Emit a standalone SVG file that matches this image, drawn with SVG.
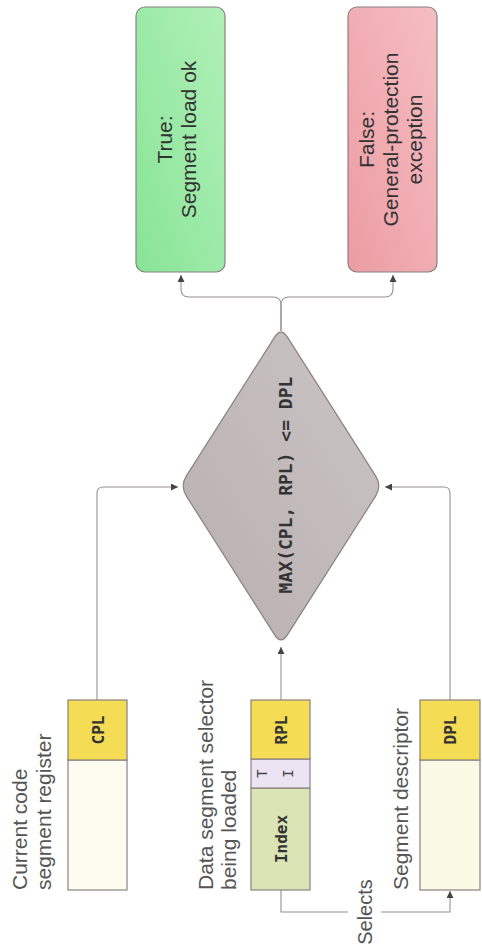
<svg xmlns="http://www.w3.org/2000/svg" width="482" height="951" viewBox="0 0 482 951">
<style>
.lbl{font-family:"Liberation Sans",Arial,sans-serif;font-size:21px;fill:#555}
.res{font-family:"Liberation Sans",Arial,sans-serif;font-size:21px;fill:#333;text-anchor:middle}
.mono{font-family:"DejaVu Sans Mono",monospace;font-weight:bold;font-size:16px;fill:#333;text-anchor:middle}
.ti{font-family:"DejaVu Sans Mono",monospace;font-size:14px;fill:#444;text-anchor:middle}
.box{stroke:#8a8080;stroke-width:1.2}
.con{fill:none;stroke:#9a9090;stroke-width:1.1}
.arr{marker-end:url(#ah)}
</style>
<defs>
<marker id="ah" viewBox="0 0 10 10" refX="10" refY="5" markerWidth="8" markerHeight="7" markerUnits="userSpaceOnUse" orient="auto">
<path d="M0 0 L10 5 L0 10 Z" fill="#444"/>
</marker>
<linearGradient id="gGreen" x1="0" y1="1" x2="1" y2="0">
<stop offset="0" stop-color="#88e496"/>
<stop offset="1" stop-color="#b0f0b8"/>
</linearGradient>
<linearGradient id="gRed" x1="0" y1="1" x2="1" y2="0">
<stop offset="0" stop-color="#ec9ca3"/>
<stop offset="1" stop-color="#f5bec2"/>
</linearGradient>
<linearGradient id="gDia" x1="0" y1="1" x2="1" y2="0">
<stop offset="0" stop-color="#b8b0b0"/>
<stop offset="1" stop-color="#cbc4c4"/>
</linearGradient>
</defs>

<g id="connectors">
<path class="con arr" d="M97 700 V493 Q97 487 103 487 H178"/>
<path class="con arr" d="M281 700 V647"/>
<path class="con arr" d="M450 700 V493 Q450 487 444 487 H385"/>
<path class="con arr" d="M281 331 V305 Q281 297 273 297 H189 Q181 297 181 289 V275"/>
<path class="con arr" d="M281 331 V305 Q281 297 289 297 H385 Q393 297 393 289 V275"/>
<path class="con" d="M281 890 V912 H348"/>
<path class="con arr" d="M381 912 H450 V891"/>
<text class="lbl" style="text-anchor:middle;font-size:20px" transform="translate(372,912) rotate(-90)">Selects</text>
</g>

<g id="true">
<rect class="box" x="136" y="7" width="89" height="265" rx="9" fill="url(#gGreen)"/>
<text class="res" transform="translate(172,139.5) rotate(-90)"><tspan x="0" y="0">True:</tspan><tspan x="0" y="24">Segment load ok</tspan></text>
</g>

<g id="false">
<rect class="box" x="348" y="7" width="89" height="265" rx="9" fill="url(#gRed)"/>
<text class="res" transform="translate(374,139.5) rotate(-90)"><tspan x="0" y="0">False:</tspan><tspan x="0" y="24">General-protection</tspan><tspan x="0" y="48">exception</tspan></text>
</g>

<g id="decision">
<path class="box" fill="url(#gDia)" stroke="#7a7070" d="M274.6 337.1 Q281 327 287.4 337.1 L375.6 475.9 Q382 486 375.6 496.1 L287.4 634.9 Q281 645 274.6 634.9 L186.4 496.1 Q180 486 186.4 475.9 Z"/>
<text class="mono" style="font-size:18px" transform="translate(292,485) rotate(-90)">MAX(CPL, RPL) &lt;= DPL</text>
</g>

<g id="cs-register">
<text class="lbl" transform="translate(27,890) rotate(-90)"><tspan x="0" y="0">Current code</tspan><tspan x="0" y="24">segment register</tspan></text>
<rect class="box" x="68" y="760" width="59" height="130" fill="#fcfcf0"/>
<rect class="box" x="68" y="700" width="59" height="60" fill="#f4dc55"/>
<text class="mono" transform="translate(103.5,730) rotate(-90)">CPL</text>
</g>

<g id="selector">
<text class="lbl" transform="translate(213,890) rotate(-90)"><tspan x="0" y="0">Data segment selector</tspan><tspan x="0" y="23">being loaded</tspan></text>
<rect class="box" x="251" y="788" width="59" height="102" fill="#dbe4b4"/>
<rect class="box" x="251" y="759" width="59" height="29" fill="#ece4f2"/>
<rect class="box" x="251" y="700" width="59" height="59" fill="#f4dc55"/>
<text class="mono" transform="translate(286.5,730) rotate(-90)">RPL</text>
<text class="ti" transform="translate(266.5,773.5) rotate(-90)">T</text>
<text class="ti" transform="translate(292.5,773.5) rotate(-90)">I</text>
<text class="mono" transform="translate(286.5,839) rotate(-90)">Index</text>
</g>

<g id="descriptor">
<text class="lbl" transform="translate(408,890) rotate(-90)">Segment descriptor</text>
<rect class="box" x="420" y="760" width="60" height="130" fill="#f9f9e6"/>
<rect class="box" x="420" y="700" width="60" height="60" fill="#f4dc55"/>
<text class="mono" transform="translate(456,730) rotate(-90)">DPL</text>
</g>
</svg>
